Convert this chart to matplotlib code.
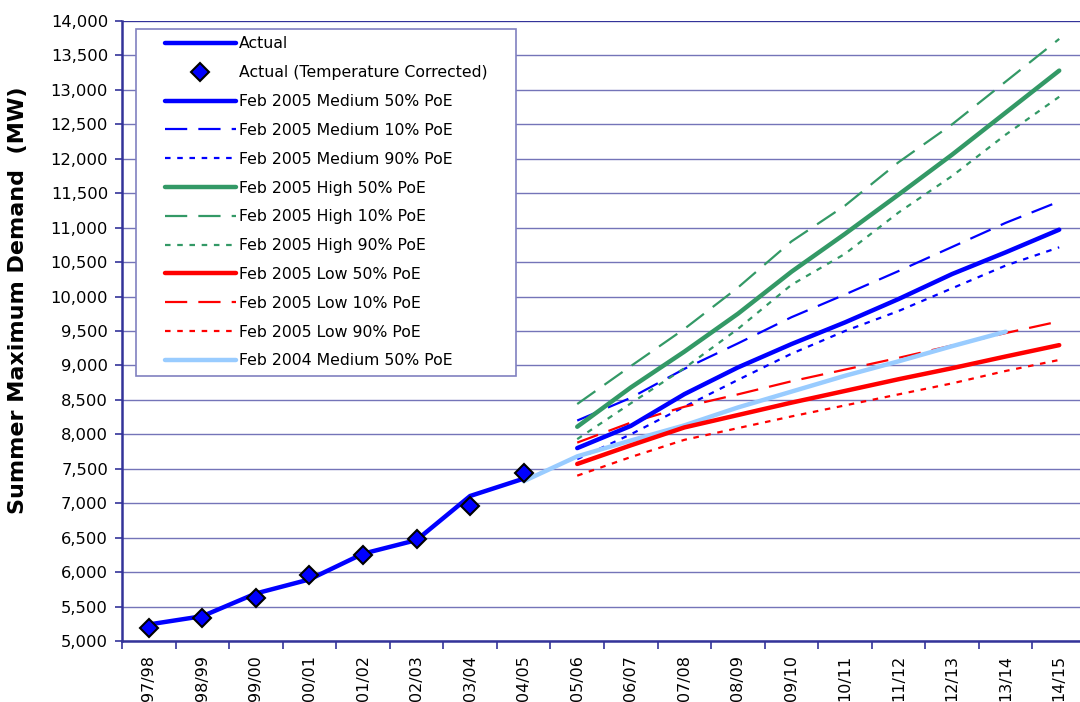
import matplotlib
matplotlib.use("Agg")
import matplotlib.pyplot as plt
from matplotlib.patches import Rectangle
from matplotlib.ticker import FuncFormatter, FixedLocator
import numpy as np

categories = ["97/98", "98/99", "99/00", "00/01", "01/02", "02/03",
              "03/04", "04/05", "05/06", "06/07", "07/08", "08/09",
              "09/10", "10/11", "11/12", "12/13", "13/14", "14/15"]

actual = [5240, 5360, 5690, 5894, 6267, 6465, 7105, 7357]
actual_tc = [5190, 5337, 5628, 5962, 6243, 6485, 6960, 7434]

med50 = [7800, 8122, 8583, 8971, 9310, 9625, 9964, 10327, 10642, 10971]
med10 = [8200, 8530, 8950, 9320, 9700, 10030, 10370, 10720, 11070, 11380]
med90 = [7640, 8000, 8400, 8790, 9170, 9500, 9790, 10120, 10450, 10715]
high50 = [8110, 8680, 9200, 9750, 10360, 10910, 11480, 12060, 12670, 13280]
high10 = [8440, 8990, 9530, 10130, 10800, 11320, 11950, 12500, 13120, 13740]
high90 = [7930, 8450, 8960, 9530, 10170, 10620, 11220, 11750, 12350, 12900]
low50 = [7570, 7840, 8100, 8280, 8460, 8630, 8800, 8960, 9130, 9295]
low10 = [7880, 8170, 8400, 8580, 8770, 8940, 9110, 9290, 9470, 9640]
low90 = [7400, 7670, 7920, 8090, 8260, 8420, 8580, 8740, 8920, 9080]
feb04 = [7320, 7680, 7910, 8130, 8390, 8620, 8850, 9060, 9280, 9490]

BLUE = "#0000FF"
GREEN = "#339966"
RED = "#FF0000"
LBLUE = "#99CCFF"
NAVY = "#333399"
GRID = "#7474B8"

W, H = 1080, 702
fig = plt.figure(figsize=(W / 100, H / 100), dpi=100)
ax_left, ax_right, ax_top, ax_bot = 122, 1086, 21, 641
ax = fig.add_axes([ax_left / W, (H - ax_bot) / H, (ax_right - ax_left) / W, (ax_bot - ax_top) / H])

x_act = np.arange(len(actual))
x_proj = np.arange(8, 18)
x_04 = np.arange(7, 17)

DASH = (0, (10, 5))
DOT = (0, (2.5, 3))
lw_s = 3.2
lw_d = 1.6

lines = []
l, = ax.plot(x_act, actual, color=BLUE, lw=lw_s, solid_capstyle="round", zorder=5, label="Actual")
lines.append(l)
l, = ax.plot(x_act, actual_tc, ls="none", marker="D", markersize=9, markerfacecolor=BLUE,
             markeredgecolor="black", markeredgewidth=1.5, zorder=7, label="Actual (Temperature Corrected)")
lines.append(l)
l, = ax.plot(x_proj, med50, color=BLUE, lw=lw_s, solid_capstyle="round", zorder=5, label="Feb 2005 Medium 50% PoE")
lines.append(l)
l, = ax.plot(x_proj, med10, color=BLUE, lw=lw_d, ls=DASH, zorder=4, label="Feb 2005 Medium 10% PoE")
lines.append(l)
l, = ax.plot(x_proj, med90, color=BLUE, lw=lw_d, ls=DOT, zorder=4, label="Feb 2005 Medium 90% PoE")
lines.append(l)
l, = ax.plot(x_proj, high50, color=GREEN, lw=lw_s, solid_capstyle="round", zorder=5, label="Feb 2005 High 50% PoE")
lines.append(l)
l, = ax.plot(x_proj, high10, color=GREEN, lw=lw_d, ls=DASH, zorder=4, label="Feb 2005 High 10% PoE")
lines.append(l)
l, = ax.plot(x_proj, high90, color=GREEN, lw=lw_d, ls=DOT, zorder=4, label="Feb 2005 High 90% PoE")
lines.append(l)
l, = ax.plot(x_proj, low50, color=RED, lw=lw_s, solid_capstyle="round", zorder=5, label="Feb 2005 Low 50% PoE")
lines.append(l)
l, = ax.plot(x_proj, low10, color=RED, lw=lw_d, ls=DASH, zorder=4, label="Feb 2005 Low 10% PoE")
lines.append(l)
l, = ax.plot(x_proj, low90, color=RED, lw=lw_d, ls=DOT, zorder=4, label="Feb 2005 Low 90% PoE")
lines.append(l)
l, = ax.plot(x_04, feb04, color=LBLUE, lw=lw_s, solid_capstyle="round", zorder=4.5, label="Feb 2004 Medium 50% PoE")
lines.append(l)

ax.set_xlim(-0.5, len(categories) - 0.5)
ax.set_ylim(5000, 14000)
ax.set_yticks(np.arange(5000, 14001, 500))
ax.yaxis.set_major_formatter(FuncFormatter(lambda v, p: f"{int(v):,}"))
ax.grid(axis="y", color=GRID, lw=1.0, zorder=0)
ax.set_axisbelow(True)

ax.set_xticks(np.arange(len(categories)))
ax.set_xticklabels(categories, rotation=90, fontsize=11.5, color="black")
ax.tick_params(axis="x", length=0, pad=10)
ax.xaxis.set_minor_locator(FixedLocator(np.arange(-0.5, len(categories), 1.0)))
ax.tick_params(axis="x", which="minor", length=6, color=NAVY, width=1.2)
ax.tick_params(axis="y", length=5, color=NAVY, width=1.2, labelsize=11.8, pad=5)

for s in ["top", "right"]:
    ax.spines[s].set_visible(False)
for s in ["left", "bottom"]:
    ax.spines[s].set_color(NAVY)
    ax.spines[s].set_linewidth(1.8)
ax.axhline(14000, color=NAVY, lw=1.5, zorder=1)

fig.text(18 / W, 1 - 300 / H, "Summer Maximum Demand  (MW)", rotation=90,
         ha="center", va="center", fontsize=16, fontweight="bold", family="DejaVu Sans")


def ax_x(px):
    return (px - ax_left) / (ax_right - ax_left)


def ax_y(py):
    return (ax_bot - py) / (ax_bot - ax_top)


# legend box
x0, x1 = ax_x(136), ax_x(516)
y0, y1 = ax_y(376), ax_y(29)
ax.add_patch(Rectangle((x0, y0), x1 - x0, y1 - y0, transform=ax.transAxes,
                       facecolor="white", edgecolor="#8080C0", lw=1.2, zorder=8))
leg = ax.legend(handles=lines, loc="upper left", bbox_to_anchor=(ax_x(165), ax_y(36.5)),
                frameon=False, fontsize=11.3, handlelength=4.5, handletextpad=0.2,
                labelspacing=0.88, borderpad=0, borderaxespad=0)
leg.set_zorder(9)

fig.savefig("out.png", dpi=100)
